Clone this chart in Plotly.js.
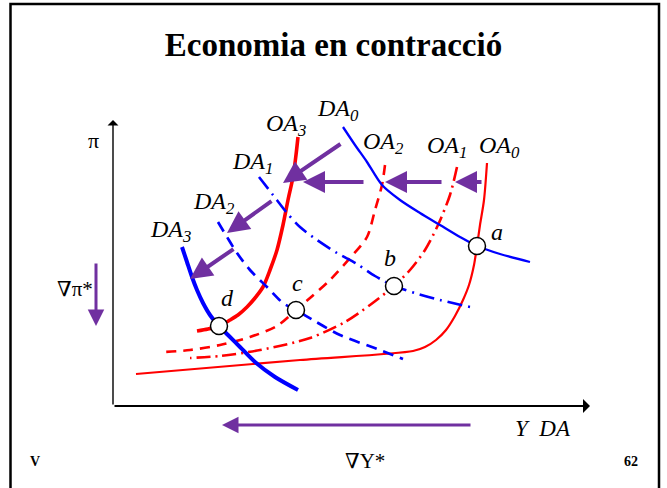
<!DOCTYPE html>
<html><head><meta charset="utf-8">
<script src="https://cdn.plot.ly/plotly-3.0.1.min.js"></script>
<style>html,body{margin:0;padding:0;background:#fff;overflow:hidden}</style>
</head><body><div id="chart" style="width:667px;height:488px"></div>
<script>
// Curves (x = output Y, y = inflation π), arbitrary units from the axis origin
const oa0X = [374, 371, 367, 364, 361, 356, 350, 342, 333, 323, 312, 300, 187, 23];
const oa0Y = [243, 206, 181, 160, 141, 121, 106, 90, 76, 66, 59, 55, 46, 32];
const oa1X = [344, 337, 325, 312, 297, 281, 257, 232, 197, 147, 107, 77];
const oa1Y = [239, 211, 181, 156, 136, 120, 101, 84, 68, 56, 50, 48];
const oa2X = [272, 269, 262, 254, 237, 217, 197, 183, 164, 137, 107, 77, 52];
const oa2Y = [241, 221, 196, 169, 148, 126, 108, 96, 80, 69, 61, 56, 54];
const oa3X = [185, 183, 180, 175, 170, 164, 157, 150, 142, 134, 125, 117, 106, 95, 84];
const oa3Y = [269, 251, 229, 206, 181, 156, 136, 119, 108, 99, 91, 86, 80, 77, 75];
const da0X = [230, 242, 254, 269, 287, 307, 327, 347, 364, 387, 417];
const da0Y = [279, 261, 244, 221, 206, 193, 181, 169, 160, 152, 144];
const da1X = [146, 160, 174, 187, 204, 224, 244, 262, 281, 302, 327, 357];
const da1Y = [229, 211, 193, 179, 166, 153, 142, 130, 120, 113, 106, 99];
const da2X = [105, 114, 124, 137, 154, 170, 183, 200, 227, 267, 290];
const da2Y = [184, 169, 153, 136, 119, 103, 96, 86, 71, 56, 47];
const da3X = [69, 74, 79, 84, 90, 97, 106, 115, 127, 142, 162, 185];
const da3Y = [159, 144, 129, 116, 103, 91, 80, 71, 59, 44, 29, 16];

// Equilibrium points
const eqNames = ['a', 'b', 'c', 'd'];
const eqX = [364, 281, 183, 106];
const eqY = [160, 120, 96, 80];

// Curve labels
const curveLabels = ['OA<sub>3</sub>', 'DA<sub>0</sub>', 'OA<sub>2</sub>', 'OA<sub>1</sub>', 'OA<sub>0</sub>', 'DA<sub>1</sub>', 'DA<sub>2</sub>', 'DA<sub>3</sub>'];
const curveLabelX = [173, 225, 270, 334, 386, 139, 101, 57];
const curveLabelY = [281, 296, 263, 259, 259, 243, 203, 175];

// Shift arrows (tail -> head)
const arrTailX = [370, 330, 252, 229, 160, 122, -17, 359];
const arrTailY = [224, 224, 224, 263, 206, 158, 144, -19];
const arrHeadX = [342, 272, 190, 170, 114, 77, -17, 109];
const arrHeadY = [224, 224, 224, 223, 173, 127, 80, -19];

// Axes
const axisEnd = {x: 477, y: 286};

const RED = '#ff0000', BLUE = '#0000ff', PURPLE = '#7030a0';
function curve(x, y, color, width, dash) {
  return {x: x, y: y, type: 'scatter', mode: 'lines', hoverinfo: 'skip',
    line: {color: color, width: width, dash: dash, shape: 'spline', smoothing: 0.8}};
}
const traces = [
  curve(oa0X, oa0Y, RED, 2.2, 'solid'),
  curve(oa1X, oa1Y, RED, 2.6, '14px,5px,2px,5px'),
  curve(oa2X, oa2Y, RED, 2.6, '10px,7px'),
  curve(oa3X, oa3Y, RED, 3.6, 'solid'),
  curve(da0X, da0Y, BLUE, 2.3, 'solid'),
  curve(da1X, da1Y, BLUE, 2.6, '15px,6px,2px,6px'),
  curve(da2X, da2Y, BLUE, 2.7, '11px,7px'),
  curve(da3X, da3Y, BLUE, 4, 'solid'),
  {x: eqX, y: eqY, type: 'scatter', mode: 'markers', hoverinfo: 'skip',
   marker: {size: 17, color: '#ffffff', line: {color: '#000000', width: 1.5}}}
];

const serif = 'Liberation Serif, DejaVu Serif, serif';
const ann = [];
// axes
ann.push({x: axisEnd.x, y: 0, ax: 0, ay: 0, axref: 'x', ayref: 'y', xref: 'x', yref: 'y', text: '',
  showarrow: true, arrowhead: 1, arrowsize: 1.3, arrowwidth: 1.8, arrowcolor: '#000', standoff: 0});
ann.push({x: 0, y: axisEnd.y, ax: 0, ay: 0, axref: 'x', ayref: 'y', xref: 'x', yref: 'y', text: '',
  showarrow: true, arrowhead: 1, arrowsize: 1.3, arrowwidth: 1.4, arrowcolor: '#000', standoff: 0});
// shift arrows
for (let i = 0; i < arrTailX.length; i++) {
  ann.push({x: arrHeadX[i], y: arrHeadY[i], ax: arrTailX[i], ay: arrTailY[i], axref: 'x', ayref: 'y',
    xref: 'x', yref: 'y', text: '', showarrow: true, arrowhead: 2, arrowsize: 1.1,
    arrowwidth: i >= 6 ? 3 : 4, arrowcolor: PURPLE, standoff: 0});
}
// curve labels
for (let i = 0; i < curveLabels.length; i++) {
  ann.push({x: curveLabelX[i], y: curveLabelY[i], xref: 'x', yref: 'y', text: '<i>' + curveLabels[i] + '</i>',
    showarrow: false, font: {family: serif, size: 24, color: '#000'}, xanchor: 'center', yanchor: 'middle'});
}
// point labels
const ptLabelDX = [20, -4, 1, 8], ptLabelDY = [14, 28, 27, 28];
for (let i = 0; i < eqNames.length; i++) {
  ann.push({x: eqX[i] + ptLabelDX[i], y: eqY[i] + ptLabelDY[i], xref: 'x', yref: 'y', text: '<i>' + eqNames[i] + '</i>',
    showarrow: false, font: {family: serif, size: 24, color: '#000'}, xanchor: 'center', yanchor: 'middle'});
}
// axis labels and other texts
ann.push({x: -20, y: 266, xref: 'x', yref: 'y', text: 'π', showarrow: false, font: {family: serif, size: 22, color: '#000'}});
ann.push({x: -38, y: 117, xref: 'x', yref: 'y', text: '∇π*', showarrow: false, font: {family: serif, size: 21, color: '#000'}});
ann.push({x: 430, y: -22, xref: 'x', yref: 'y', text: '<i>Y  DA</i>', showarrow: false, font: {family: serif, size: 23, color: '#000'}});
ann.push({x: 252, y: -55, xref: 'x', yref: 'y', text: '∇Y*', showarrow: false, font: {family: serif, size: 21, color: '#000'}});
ann.push({x: 0.042, y: 0.035, xref: 'paper', yref: 'paper', text: '<b>V</b>', showarrow: false, font: {family: serif, size: 14, color: '#000'}});
ann.push({x: 0.96, y: 0.035, xref: 'paper', yref: 'paper', text: '<b>62</b>', showarrow: false, font: {family: serif, size: 14, color: '#000'}});

const layout = {
  width: 667, height: 488,
  margin: {l: 0, r: 0, t: 0, b: 0},
  paper_bgcolor: '#ffffff', plot_bgcolor: '#ffffff',
  showlegend: false,
  title: {text: '<b>Economia en contracció</b>', x: 0.5, xanchor: 'center', y: 0.908, yanchor: 'middle',
    font: {family: serif, size: 33, color: '#000'}},
  xaxis: {range: [-113, 554], visible: false, fixedrange: true},
  yaxis: {range: [-82, 406], visible: false, fixedrange: true},
  shapes: [{type: 'rect', xref: 'paper', yref: 'paper', x0: 10.5 / 667, x1: 659 / 667, y0: -0.1, y1: 1 - 4 / 488,
    line: {color: '#000', width: 2.5}, fillcolor: 'rgba(0,0,0,0)'}],
  annotations: ann
};
Plotly.newPlot('chart', traces, layout, {staticPlot: true, displayModeBar: false});
</script></body></html>
